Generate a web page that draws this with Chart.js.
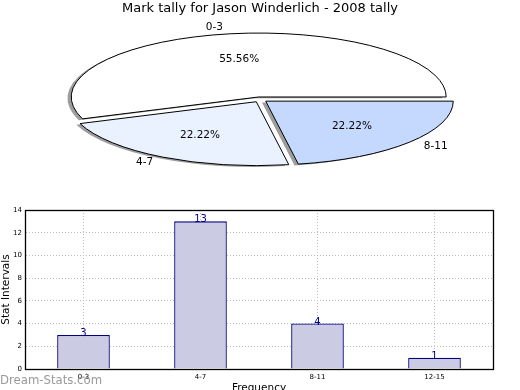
<!DOCTYPE html>
<html>
<head>
<meta charset="utf-8">
<script src="https://cdn.jsdelivr.net/npm/chart.js@4.4.1/dist/chart.umd.min.js"></script>
<style>
  html, body { margin: 0; padding: 0; background: #fff; overflow: hidden; }
  #wrap { position: relative; width: 520px; height: 390px; overflow: hidden; }
  canvas { position: absolute; left: 0; top: 0; }
  .mark { position: absolute; left: 0; top: 373px; font: 11.7px "DejaVu Sans", sans-serif; color: #9a9a9a; white-space: nowrap; }
</style>
</head>
<body>
<div id="wrap">
  <canvas id="bars" width="520" height="400"></canvas>
  <canvas id="pie" width="520" height="200"></canvas>
  <div class="mark">Dream-Stats.com</div>
</div>
<script>
// pie data
const pieTitle = "Mark tally for Jason Winderlich - 2008 tally";
const pieLabels = ["0-3", "4-7", "8-11"];
const pieValues = [5, 2, 2];
const pieColors = ["#ffffff", "#ebf2ff", "#c5d8fe"];

// bar data
const barLabels = ["0-3", "4-7", "8-11", "12-15"];
const barValues = [3, 13, 4, 1];
const yMin = 0, yMax = 14, yStep = 2;

Chart.defaults.font.family = "DejaVu Sans";
Chart.defaults.color = "#000";

const K = 0.341;       // vertical squash of the pie
const EXPLODE = 0.04;  // slice offset, fraction of radius
const SHADOW = 0.02;   // shadow offset, fraction of radius

function sliceCenter(a) {
  const mid = (a.startAngle + a.endAngle) / 2;
  const d = EXPLODE * a.outerRadius;
  return [a.x + Math.cos(mid) * d, a.y + Math.sin(mid) * d];
}

// chart.js goes clockwise from the top, so feed the slices reversed
const order = pieLabels.map((_, i) => i).reverse();

const pieLook = {
  id: "pieLook",
  beforeDatasetDraw(chart) {
    const ctx = chart.ctx;
    const arcs = chart.getDatasetMeta(0).data;
    const cy = arcs[0].y;
    ctx.save();
    ctx.translate(0, cy);
    ctx.scale(1, K);
    ctx.translate(0, -cy);

    // shadows first
    ctx.fillStyle = "rgba(60,60,60,0.5)";
    arcs.forEach(a => {
      const [x, y] = sliceCenter(a);
      const s = SHADOW * a.outerRadius;
      ctx.beginPath();
      ctx.moveTo(x - s, y + s);
      ctx.arc(x - s, y + s, a.outerRadius, a.startAngle, a.endAngle);
      ctx.closePath();
      ctx.fill();
    });

    // slices
    arcs.forEach(a => {
      const [x, y] = sliceCenter(a);
      ctx.save();
      ctx.translate(x - a.x, y - a.y);
      a.draw(ctx);
      ctx.restore();
    });

    // outlines: build path squashed, stroke unsquashed
    ctx.beginPath();
    arcs.forEach(a => {
      const [x, y] = sliceCenter(a);
      ctx.moveTo(x, y);
      ctx.arc(x, y, a.outerRadius, a.startAngle, a.endAngle);
      ctx.closePath();
    });
    ctx.restore();
    ctx.lineWidth = 1;
    ctx.strokeStyle = "#000";
    ctx.stroke();

    // labels
    const total = pieValues.reduce((s, v) => s + v, 0);
    ctx.font = "10.5px 'DejaVu Sans'";
    ctx.fillStyle = "#000";
    ctx.textBaseline = "middle";
    arcs.forEach((a, j) => {
      const i = order[j];
      const mid = (a.startAngle + a.endAngle) / 2;
      const [x, y0] = sliceCenter(a);
      const y = cy + (y0 - cy) * K;
      const r = a.outerRadius;
      const c = Math.cos(mid), s = Math.sin(mid);
      ctx.textAlign = c > 0 ? "left" : "right";
      ctx.fillText(pieLabels[i], x + 1.1 * r * c, y + 1.1 * r * K * s);
      ctx.textAlign = "center";
      ctx.fillText((pieValues[i] / total * 100).toFixed(2) + "%", x + 0.6 * r * c, y + 0.6 * r * K * s);
    });
    return false;
  }
};

new Chart(document.getElementById("pie"), {
  type: "pie",
  data: {
    labels: order.map(i => pieLabels[i]),
    datasets: [{
      data: order.map(i => pieValues[i]),
      backgroundColor: order.map(i => pieColors[i]),
      borderWidth: 0,
      radius: 187.5,
      hoverOffset: 0
    }]
  },
  options: {
    responsive: false,
    animation: false,
    rotation: 90,
    layout: { padding: { bottom: 20.6 } },
    plugins: {
      legend: { display: false },
      tooltip: { enabled: false },
      title: {
        display: true,
        text: pieTitle,
        color: "#000",
        font: { size: 13, weight: "normal" },
        padding: { top: 1, bottom: 3 }
      }
    }
  },
  plugins: [pieLook]
});

const barExtras = {
  id: "barExtras",
  afterDatasetsDraw(chart) {
    const ctx = chart.ctx;
    const { left, top, right, bottom } = chart.chartArea;
    ctx.save();
    ctx.strokeStyle = "#000";
    ctx.lineWidth = 1.3;
    ctx.strokeRect(Math.round(left) + 0.5, Math.round(top) + 0.5, Math.round(right - left), Math.round(bottom - top));
    ctx.font = "10px 'DejaVu Sans'";
    ctx.fillStyle = "#000080";
    ctx.textAlign = "center";
    ctx.textBaseline = "alphabetic";
    chart.getDatasetMeta(0).data.forEach((bar, i) => {
      ctx.fillText(String(barValues[i]), bar.x, bar.y + 1);
    });
    ctx.restore();
  }
};

new Chart(document.getElementById("bars"), {
  type: "bar",
  data: {
    labels: barLabels,
    datasets: [{
      data: barValues,
      backgroundColor: "#cbcbe4",
      borderColor: "#000080",
      borderWidth: 1.3,
      barPercentage: 0.45,
      categoryPercentage: 1
    }]
  },
  options: {
    responsive: false,
    animation: false,
    layout: { padding: { top: 210, right: 27, left: 0, bottom: 0 } },
    plugins: { legend: { display: false }, tooltip: { enabled: false } },
    scales: {
      x: {
        offset: true,
        afterFit(scale) { scale.height = 31; },
        grid: { offset: false, color: "#bdbdbd", drawTicks: false },
        border: { color: "#000", dash: [1, 2] },
        ticks: { font: { size: 7 }, padding: 4, color: "#000" },
        title: { display: true, text: "Frequency", font: { size: 10.5 }, padding: { top: 0, bottom: 5 }, color: "#000" }
      },
      y: {
        min: yMin,
        max: yMax,
        afterFit(scale) { scale.width = 25; },
        grid: { color: "#bdbdbd", drawTicks: false },
        border: { color: "#000", dash: [1, 2] },
        ticks: { stepSize: yStep, font: { size: 7 }, padding: 3, color: "#000" },
        title: { display: true, text: "Stat Intervals", font: { size: 10.5 }, padding: 0, color: "#000" }
      }
    }
  },
  plugins: [barExtras]
});
</script>
</body>
</html>
